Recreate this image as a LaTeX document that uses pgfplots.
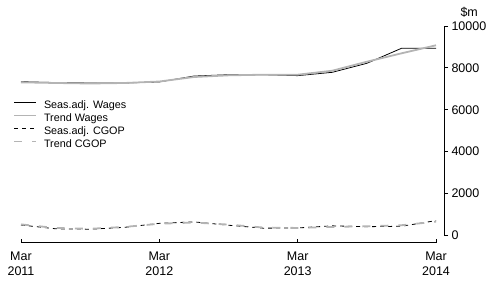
\documentclass[border=0pt]{standalone}
\usepackage{fontspec}
\setmainfont{Liberation Sans}
\usepackage{pgfplots}
\pgfplotsset{compat=1.18}
\definecolor{trendgray}{RGB}{180,180,180}
\begin{document}
\begin{tikzpicture}
\begin{axis}[
  at={(21bp,41.3bp)}, anchor=south west,
  scale only axis, width=423bp, height=216.7bp,
  xmin=0, xmax=12.23, ymin=-344, ymax=10000,
  clip=false,
  axis x line=bottom, axis y line=right,
  axis line style={black, line width=0.8bp, -},
  x axis line style={shorten >=8bp},
  y axis line style={shorten <=7.2bp},
  xtick={0,4,8,12},
  xticklabels={{Mar\\2011},{Mar\\2012},{Mar\\2013},{Mar\\2014}},
  xtick align=inside, ytick align=outside,
  ytick={0,2000,4000,6000,8000,10000},
  scaled y ticks=false,
  yticklabels={0,2000,4000,6000,8000,10000},
  major tick length=4bp,
  tick style={black, line width=0.8bp},
  minor tick num=0,
  xticklabel style={align=center, inner sep=0pt, yshift=-8.8bp, font=\fontsize{12.5bp}{15bp}\selectfont},
  yticklabel style={font=\fontsize{12.5bp}{15bp}\selectfont},
  legend cell align=left,
  legend style={at={(rel axis cs:-0.0189,0.656)}, anchor=north west, draw=none, fill=none,
    inner sep=0pt, column sep=7bp, row sep=2.5bp,
    font=\fontsize{10.8bp}{12bp}\selectfont,
    nodes={inner xsep=0pt, inner ysep=0pt, text height=8bp, text depth=2.5bp}},
  legend image code/.code={\draw[#1] (0bp,3.5bp) -- (22bp,3.5bp);},
]
\addplot[black, line width=0.8bp] coordinates {(0,7340)(1,7300)(2,7280)(3,7280)(4,7330)(5,7610)(6,7675)(7,7675)(8,7630)(9,7790)(10,8220)(11,8935)(12,8935)};
\addlegendentry{Seas.adj. Wages}
\addplot[trendgray, line width=1.8bp] coordinates {(0,7310)(1,7280)(2,7255)(3,7280)(4,7350)(5,7565)(6,7645)(7,7675)(8,7675)(9,7865)(10,8295)(11,8695)(12,9080)};
\addlegendentry{Trend Wages}
\addplot[black, line width=0.8bp, dash pattern=on 4bp off 4bp] coordinates {(0,500)(1,320)(2,300)(3,390)(4,580)(5,650)(6,490)(7,350)(8,360)(9,460)(10,420)(11,440)(12,710)};
\addlegendentry{Seas.adj. CGOP}
\addplot[trendgray, line width=1.8bp, dash pattern=on 8bp off 10bp] coordinates {(0,530)(1,360)(2,320)(3,410)(4,560)(5,620)(6,520)(7,380)(8,360)(9,410)(10,440)(11,490)(12,660)};
\addlegendentry{Trend CGOP}
\node[anchor=base west, font=\fontsize{12.5bp}{15bp}\selectfont] at ([xshift=13bp,yshift=9.5bp]rel axis cs:1,1) {\$m};
\end{axis}
\pgfresetboundingbox
\path[use as bounding box] (0,0) rectangle (496bp,284bp);
\end{tikzpicture}
\end{document}
